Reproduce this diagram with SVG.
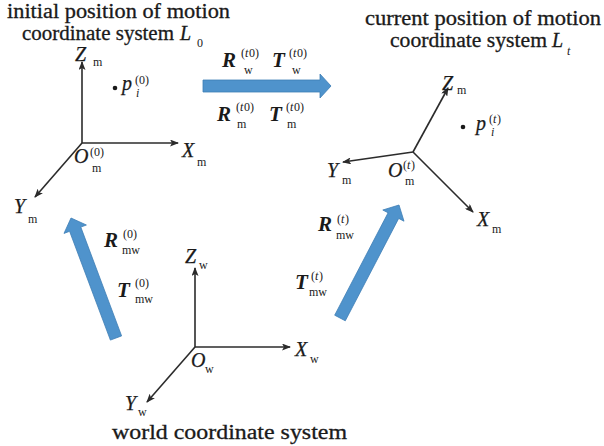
<svg xmlns="http://www.w3.org/2000/svg" width="604" height="446" viewBox="0 0 604 446" font-family="'Liberation Serif', 'DejaVu Serif', serif">
<defs>
<marker id="ah" markerUnits="userSpaceOnUse" markerWidth="9" markerHeight="7" refX="8" refY="3.5" orient="auto">
<path d="M0,0 L9,3.5 L0,7 L2,3.5 z" fill="#2b2b2b"/>
</marker>
<style>
text{font-family:'Liberation Serif','DejaVu Serif',serif;fill:#1a1a1a}
.t{font-size:20px;stroke:#1a1a1a;stroke-width:0.3}
.v{font-size:20px;font-style:italic;stroke:#1a1a1a;stroke-width:0.25}
.s{font-size:12px}
.si{font-size:12px;font-style:italic}
.b{font-size:21px;font-style:italic;font-weight:bold}
.ax{stroke:#2b2b2b;stroke-width:1.6;fill:none;marker-end:url(#ah)}
.blk{fill:#4f93cc;stroke:#3d7db5;stroke-width:0.8}
</style>
</defs>
<rect width="604" height="446" fill="#ffffff"/>

<g id="title-initial">
<text class="t" x="7" y="18" textLength="223" lengthAdjust="spacingAndGlyphs">initial position of motion</text>
<text class="t" x="22" y="40" textLength="152" lengthAdjust="spacingAndGlyphs">coordinate system</text>
<text class="t" x="180" y="40" font-style="italic">L</text>
<text class="s" x="197" y="47">0</text>
</g>

<g id="title-current">
<text class="t" x="365" y="25" textLength="236" lengthAdjust="spacingAndGlyphs">current position of motion</text>
<text class="t" x="390" y="47" textLength="157" lengthAdjust="spacingAndGlyphs">coordinate system</text>
<text class="t" x="552" y="47" font-style="italic">L</text>
<text class="si" x="567" y="55">t</text>
</g>

<g id="title-world">
<text class="t" x="112" y="439" textLength="235" lengthAdjust="spacingAndGlyphs">world coordinate system</text>
</g>

<g id="connectors">
<line class="ax" x1="82" y1="143" x2="82" y2="62"/>
<line class="ax" x1="82" y1="143" x2="178" y2="143"/>
<line class="ax" x1="82" y1="143" x2="35" y2="197"/>
<line class="ax" x1="413" y1="152" x2="448" y2="88"/>
<line class="ax" x1="413" y1="152" x2="343" y2="162"/>
<line class="ax" x1="413" y1="152" x2="473" y2="212"/>
<line class="ax" x1="195" y1="347" x2="195" y2="268"/>
<line class="ax" x1="195" y1="347" x2="290" y2="347"/>
<line class="ax" x1="195" y1="347" x2="147" y2="402"/>
<polygon class="blk" points="203,80 320,80 320,74 331,86 320,98 320,92 203,92"/>
<polygon class="blk" points="110.4,340.1 69.6,231.3 64.0,233.4 71,218 86.4,225.0 80.8,227.1 121.6,335.9"/>
<polygon class="blk" points="334.7,315.2 388.1,212.8 382.8,210.0 399,205 404.0,221.2 398.7,218.4 345.3,320.8"/>
</g>

<g id="initial-system">
<text class="v" x="75" y="61">Z</text><text class="s" x="93" y="66">m</text>
<text class="v" x="182" y="157">X</text><text class="s" x="197" y="166">m</text>
<text class="v" x="14" y="213">Y</text><text class="s" x="28" y="223">m</text>
<text class="v" x="74" y="163">O</text><text class="s" x="90" y="156">(0)</text><text class="s" x="92" y="172">m</text>
<circle cx="115" cy="88" r="2.3" fill="#1a1a1a"/>
<text class="v" x="122" y="90">p</text><text class="s" x="135" y="84">(0)</text><text class="si" x="136" y="97">i</text>
</g>

<g id="current-system">
<text class="v" x="442" y="90">Z</text><text class="s" x="457" y="94">m</text>
<text class="v" x="477" y="226">X</text><text class="s" x="492" y="233">m</text>
<text class="v" x="327" y="177">Y</text><text class="s" x="342" y="184">m</text>
<text class="v" x="388" y="177">O</text><text class="s" x="403" y="169">(</text><text class="si" x="407" y="169">t</text><text class="s" x="411" y="169">)</text><text class="s" x="405" y="185">m</text>
<circle cx="463" cy="127" r="2.3" fill="#1a1a1a"/>
<text class="v" x="476" y="130">p</text><text class="s" x="489" y="123">(</text><text class="si" x="493" y="123">t</text><text class="s" x="497" y="123">)</text><text class="si" x="491" y="136">i</text>
</g>

<g id="world-system">
<text class="v" x="185" y="263">Z</text><text class="s" x="199" y="269">w</text>
<text class="v" x="295" y="356">X</text><text class="s" x="310" y="363">w</text>
<text class="v" x="125" y="410">Y</text><text class="s" x="138" y="416">w</text>
<text class="v" x="191" y="367">O</text><text class="s" x="205" y="373">w</text>
</g>

<g id="label-top">
<text class="b" x="222" y="67">R</text><text class="s" x="241" y="57">(</text><text class="si" x="245" y="57">t</text><text class="s" x="249" y="57">0)</text><text class="s" x="244" y="74">w</text>
<text class="b" x="272" y="67">T</text><text class="s" x="289" y="57">(</text><text class="si" x="293" y="57">t</text><text class="s" x="297" y="57">0)</text><text class="s" x="292" y="74">w</text>
<text class="b" x="217" y="121">R</text><text class="s" x="236" y="111">(</text><text class="si" x="240" y="111">t</text><text class="s" x="244" y="111">0)</text><text class="s" x="237" y="128">m</text>
<text class="b" x="269" y="121">T</text><text class="s" x="286" y="111">(</text><text class="si" x="290" y="111">t</text><text class="s" x="294" y="111">0)</text><text class="s" x="287" y="128">m</text>
</g>

<g id="label-left">
<text class="b" x="104" y="247">R</text><text class="s" x="123" y="238">(0)</text><text class="s" x="122" y="254">mw</text>
<text class="b" x="117" y="297">T</text><text class="s" x="135" y="287">(0)</text><text class="s" x="135" y="303">mw</text>
</g>

<g id="label-right">
<text class="b" x="318" y="231">R</text><text class="s" x="337" y="223">(</text><text class="si" x="341" y="223">t</text><text class="s" x="345" y="223">)</text><text class="s" x="336" y="239">mw</text>
<text class="b" x="295" y="289">T</text><text class="s" x="311" y="280">(</text><text class="si" x="315" y="280">t</text><text class="s" x="319" y="280">)</text><text class="s" x="309" y="296">mw</text>
</g>
</svg>
